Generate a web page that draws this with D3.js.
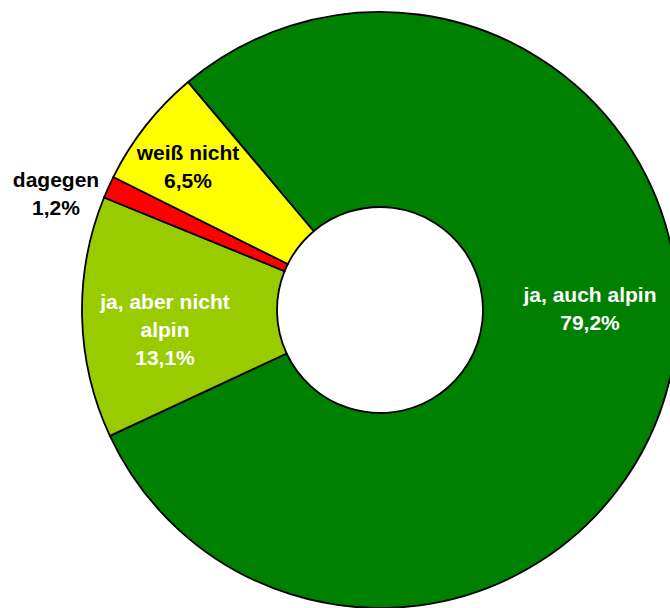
<!DOCTYPE html>
<html>
<head>
<meta charset="utf-8">
<script src="https://cdn.jsdelivr.net/npm/d3@7"></script>
<style>
  body { margin: 0; background: #fff; }
</style>
</head>
<body>
<div id="chart-area"></div>
<script>

// data
var categories = ["ja, auch alpin", "ja, aber nicht alpin", "dagegen", "weiß nicht"];
var values = [79.2, 13.1, 1.2, 6.5];
var labelLines = [["ja, auch alpin"], ["ja, aber nicht", "alpin"], ["dagegen"], ["weiß nicht"]];

var colors = ["#008000", "#99CC00", "#FF0000", "#FFFF00"];
var textColors = ["#ffffff", "#ffffff", "#000000", "#000000"];
// label anchor, offset from pie centre (x, first baseline)
var labelOffsets = [[210, -8], [-215, -1], [-324, -123], [-192, -150]];

var width = 670, height = 608;
var cx = 380, cy = 310;
var outerR = 298, innerR = 103;
var lineH = 28;

var svg = d3.select("#chart-area")
	.append("svg")
		.attr("width", width)
		.attr("height", height);

var g = svg.append("g")
	.attr("transform", "translate(" + cx + "," + cy + ")");

var start = -40.1 * Math.PI / 180;

var pie = d3.pie()
	.sort(null)
	.startAngle(start)
	.endAngle(start + 2 * Math.PI)
	.value(function(d){ return d; });

var arc = d3.arc()
	.innerRadius(innerR)
	.outerRadius(outerR);

var arcs = pie(values);

g.selectAll("path.slice")
	.data(arcs)
	.enter()
	.append("path")
		.attr("class", "slice")
		.attr("d", arc)
		.attr("fill", function(d, i){ return colors[i]; })
		.attr("stroke", "#000")
		.attr("stroke-width", 1.8)
		.attr("stroke-linejoin", "round");

var fmt = function(v){ return d3.format(".1f")(v).replace(".", ",") + "%"; };

arcs.forEach(function(d, i){
	var lines = labelLines[i].concat([fmt(values[i])]);
	var t = g.append("text")
		.attr("text-anchor", "middle")
		.attr("font-family", "Liberation Sans, Arial, sans-serif")
		.attr("font-size", "21px")
		.attr("font-weight", "bold")
		.attr("fill", textColors[i]);
	lines.forEach(function(l, j){
		t.append("tspan")
			.attr("x", labelOffsets[i][0])
			.attr("y", labelOffsets[i][1] + j * lineH)
			.text(l);
	});
});
</script>
</body>
</html>
